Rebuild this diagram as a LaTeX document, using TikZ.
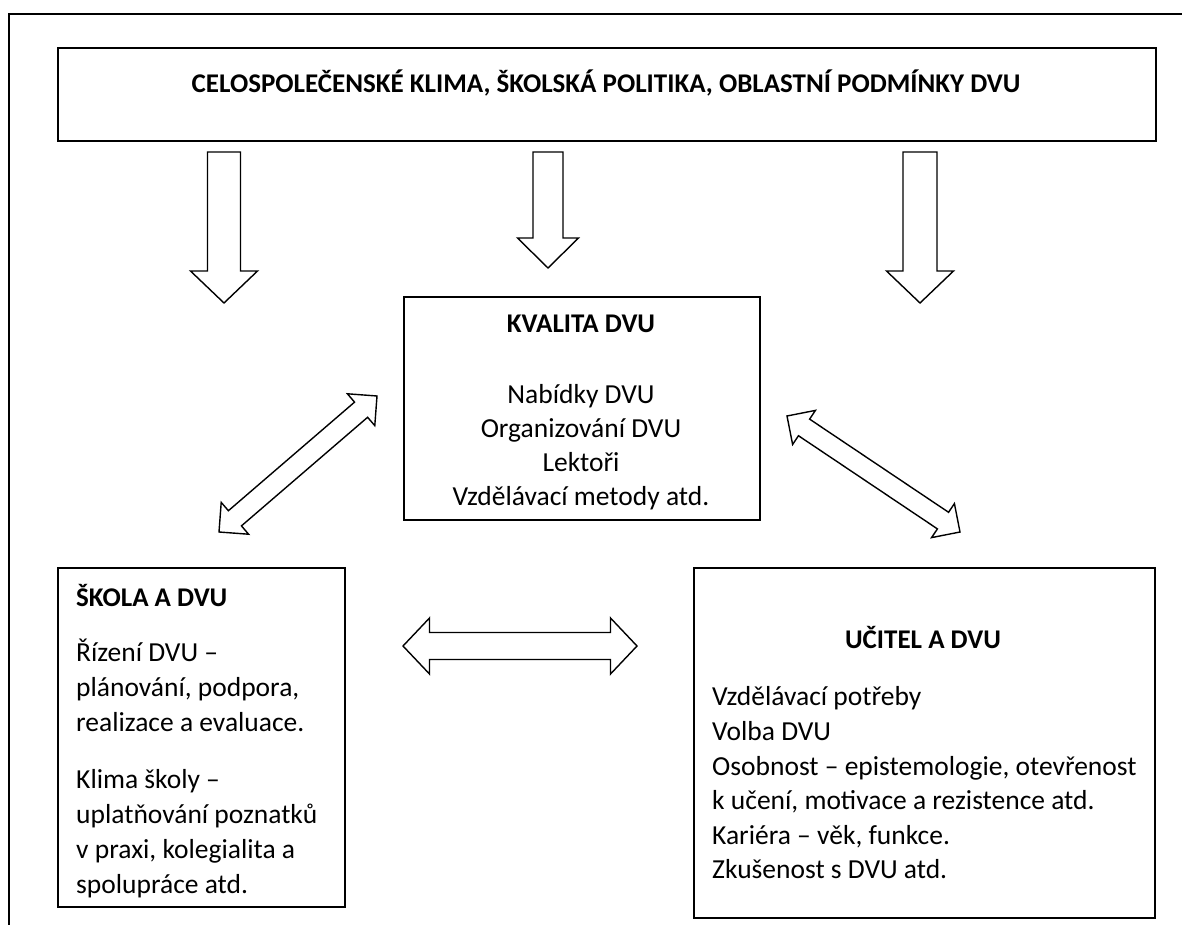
\documentclass[tikz,border=0pt]{standalone}
\usepackage{fontspec}
\setmainfont{Carlito}
\usetikzlibrary{calc}
\tikzset{
  box/.style={draw, line width=1.6pt, inner sep=0pt, anchor=north west},
  blk/.style={draw, line width=1.4pt, fill=white, line join=miter},
  txt/.style={inner sep=0pt, font=\fontsize{27.5}{33}\selectfont},
  hd/.style={inner sep=0pt, font=\fontsize{27}{33}\selectfont\bfseries},
}
% double block arrow: #1,#2 tips; #3 shaft half-width; #4 head half-width; #5 head length
\newcommand\dblblock[5]{%
 \draw[blk] (#1) -- ($(#1)!#5!(#2)!#4!90:(#2)$) -- ($(#1)!#5!(#2)!#3!90:(#2)$)
  -- ($(#2)!#5!(#1)!#3!-90:(#1)$) -- ($(#2)!#5!(#1)!#4!-90:(#1)$) -- (#2)
  -- ($(#2)!#5!(#1)!#4!90:(#1)$) -- ($(#2)!#5!(#1)!#3!90:(#1)$)
  -- ($(#1)!#5!(#2)!#3!-90:(#2)$) -- ($(#1)!#5!(#2)!#4!-90:(#2)$) -- cycle;}
% single block arrow: #1 tail centre, #2 tip
\newcommand\oneblock[5]{%
 \draw[blk] ($(#1)!#3!90:(#2)$) -- ($(#2)!#5!(#1)!#3!-90:(#1)$) -- ($(#2)!#5!(#1)!#4!-90:(#1)$)
  -- (#2) -- ($(#2)!#5!(#1)!#4!90:(#1)$) -- ($(#2)!#5!(#1)!#3!90:(#1)$)
  -- ($(#1)!#3!-90:(#2)$) -- cycle;}
\begin{document}
\begin{tikzpicture}[x=1pt, y=-1pt]
\useasboundingbox (0,0) rectangle (1182,925);
% outer frame (open at right and bottom)
\draw[line width=1.6pt] (9,935) -- (9,14) -- (1190,14);

% boxes
\node[box, minimum width=1098pt, minimum height=93pt] (top) at (57,47) {};
\node[box, minimum width=356pt, minimum height=223pt] (mid) at (403,296) {};
\node[box, minimum width=287pt, minimum height=339pt] (skola) at (57,567) {};
\node[box, minimum width=461pt, minimum height=350pt] (ucitel) at (693,567) {};

% texts
\node[hd, anchor=base] (ttop) at (606,93) {CELOSPOLEČENSKÉ KLIMA, ŠKOLSKÁ POLITIKA, OBLASTNÍ PODMÍNKY DVU};

\node[hd, anchor=base] (tmid) at (581,332) {KVALITA DVU};
\node[txt, anchor=base] (m1) at (581,403) {Nabídky DVU};
\node[txt, anchor=base] (m2) at (581,437) {Organizování DVU};
\node[txt, anchor=base] (m3) at (581,471) {Lektoři};
\node[txt, anchor=base] (m4) at (581,505) {Vzdělávací metody atd.};

\node[hd, anchor=base west] (tsk) at (76,606) {ŠKOLA A DVU};
\node[txt, anchor=base west] (s1) at (76,661) {Řízení DVU –};
\node[txt, anchor=base west] (s2) at (76,696) {plánování, podpora,};
\node[txt, anchor=base west] (s3) at (76,731) {realizace a evaluace.};
\node[txt, anchor=base west] (s4) at (76,788) {Klima školy –};
\node[txt, anchor=base west] (s5) at (76,823) {uplatňování poznatků};
\node[txt, anchor=base west] (s6) at (76,858) {v praxi, kolegialita a};
\node[txt, anchor=base west] (s7) at (76,893) {spolupráce atd.};

\node[hd, anchor=base] (tuc) at (923,648) {UČITEL A DVU};
\node[txt, anchor=base west] (u1) at (712,705) {Vzdělávací potřeby};
\node[txt, anchor=base west] (u2) at (712,740) {Volba DVU};
\node[txt, anchor=base west] (u3) at (712,775) {Osobnost – epistemologie, otevřenost};
\node[txt, anchor=base west] (u4) at (712,809) {k učení, motivace a rezistence atd.};
\node[txt, anchor=base west] (u5) at (712,844) {Kariéra – věk, funkce.};
\node[txt, anchor=base west] (u6) at (712,878) {Zkušenost s DVU atd.};

% arrow end points
\coordinate (d1a) at (224,152); \coordinate (d1b) at (224,303);
\coordinate (d2a) at (548,152); \coordinate (d2b) at (548,268);
\coordinate (d3a) at (920,152); \coordinate (d3b) at (920,303);
\coordinate (ha) at (403,646); \coordinate (hb) at (637,646);
\coordinate (la) at (219,532); \coordinate (lb) at (377,396);
\coordinate (ra) at (787,416); \coordinate (rb) at (960,532);

\oneblock{d1a}{d1b}{16.5pt}{33.5pt}{32pt}
\oneblock{d2a}{d2b}{15pt}{30.5pt}{30pt}
\oneblock{d3a}{d3b}{17pt}{33.5pt}{32pt}
\dblblock{ha}{hb}{13.5pt}{28pt}{26.5pt}
\dblblock{la}{lb}{10pt}{21pt}{21pt}
\dblblock{ra}{rb}{10pt}{20.5pt}{20.5pt}
\end{tikzpicture}
\end{document}
